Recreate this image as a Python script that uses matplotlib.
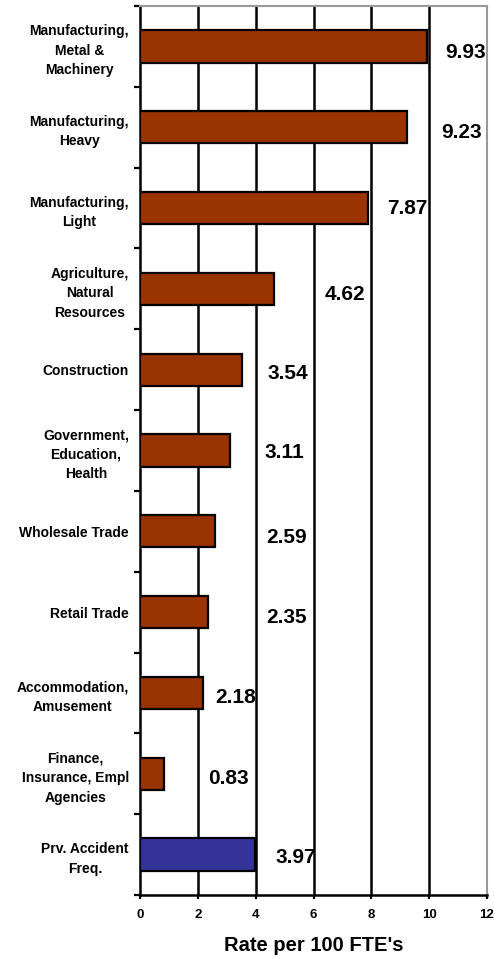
import matplotlib.pyplot as plt
from matplotlib.transforms import ScaledTranslation

plt.rcParams['font.family'] = ['Liberation Sans', 'DejaVu Sans']
plt.rcParams['font.weight'] = 'bold'

# Industry groups, top to bottom
categories = [
    "Manufacturing,\nMetal &\nMachinery",
    "Manufacturing,\nHeavy",
    "Manufacturing,\nLight",
    "Agriculture,\nNatural\nResources",
    "Construction",
    "Government,\nEducation,\nHealth",
    "Wholesale Trade",
    "Retail Trade",
    "Accommodation,\nAmusement",
    "Finance,\nInsurance, Empl\nAgencies",
    "Prv. Accident\nFreq.",
]
rates = [9.93, 9.23, 7.87, 4.62, 3.54, 3.11, 2.59, 2.35, 2.18, 0.83, 3.97]
is_total = [False] * 10 + [True]

# where each value label sits (x in data units, y shift in rows)
label_x = [10.55, 10.41, 8.54, 6.40, 4.40, 4.32, 4.35, 4.38, 2.59, 2.35, 4.70]
label_dy = [0.07, 0.07, 0.0, 0.07, 0.05, 0.02, 0.08, 0.07, 0.06, 0.06, 0.03]

fig = plt.figure(figsize=(4.94, 9.59), dpi=100)
ax = fig.add_axes([140 / 494, 64 / 959, 347 / 494, 889 / 959])

ypos = list(range(len(categories)))
colors = ['#333399' if t else '#993300' for t in is_total]

# vertical grid behind bars
for gx in [2, 4, 6, 8, 10]:
    ax.axvline(gx, color='black', lw=1.8, zorder=1)

ax.barh(ypos, rates, height=0.4, color=colors, edgecolor='black',
        linewidth=1.6, zorder=3)

for y, v, lx, dy in zip(ypos, rates, label_x, label_dy):
    ax.text(lx, y + dy, f"{v:.2f}", ha='left', va='center',
            fontsize=15, fontweight='bold', zorder=4)

ax.set_xlim(0, 12)
ax.set_ylim(len(categories) - 0.5, -0.5)
ax.set_xticks(range(0, 13, 2))
ax.set_xticklabels([str(t) for t in range(0, 13, 2)], fontsize=9.5,
                   fontweight='bold')
ax.set_yticks(ypos)
ax.set_yticklabels(categories, fontsize=10, fontweight='bold',
                   linespacing=1.5)
nudge = ScaledTranslation(0, 3 / 72, fig.dpi_scale_trans)
for lbl in ax.get_yticklabels():
    lbl.set_multialignment('center')
    lbl.set_transform(lbl.get_transform() + nudge)
ax.set_yticks([i - 0.5 for i in range(len(categories) + 1)], minor=True)

ax.tick_params(axis='y', which='major', length=0, pad=8)
ax.tick_params(axis='y', which='minor', length=4, width=1.6, direction='out')
ax.tick_params(axis='x', length=3, width=1.6, direction='out', pad=7)

for side in ['left', 'bottom']:
    ax.spines[side].set_linewidth(1.8)
    ax.spines[side].set_color('black')
for side in ['top', 'right']:
    ax.spines[side].set_linewidth(1.5)
    ax.spines[side].set_color('#999999')

ax.set_xlabel("Rate per 100 FTE's", fontsize=14.5, fontweight='bold',
              labelpad=11)

fig.savefig('out.png', dpi=100)
